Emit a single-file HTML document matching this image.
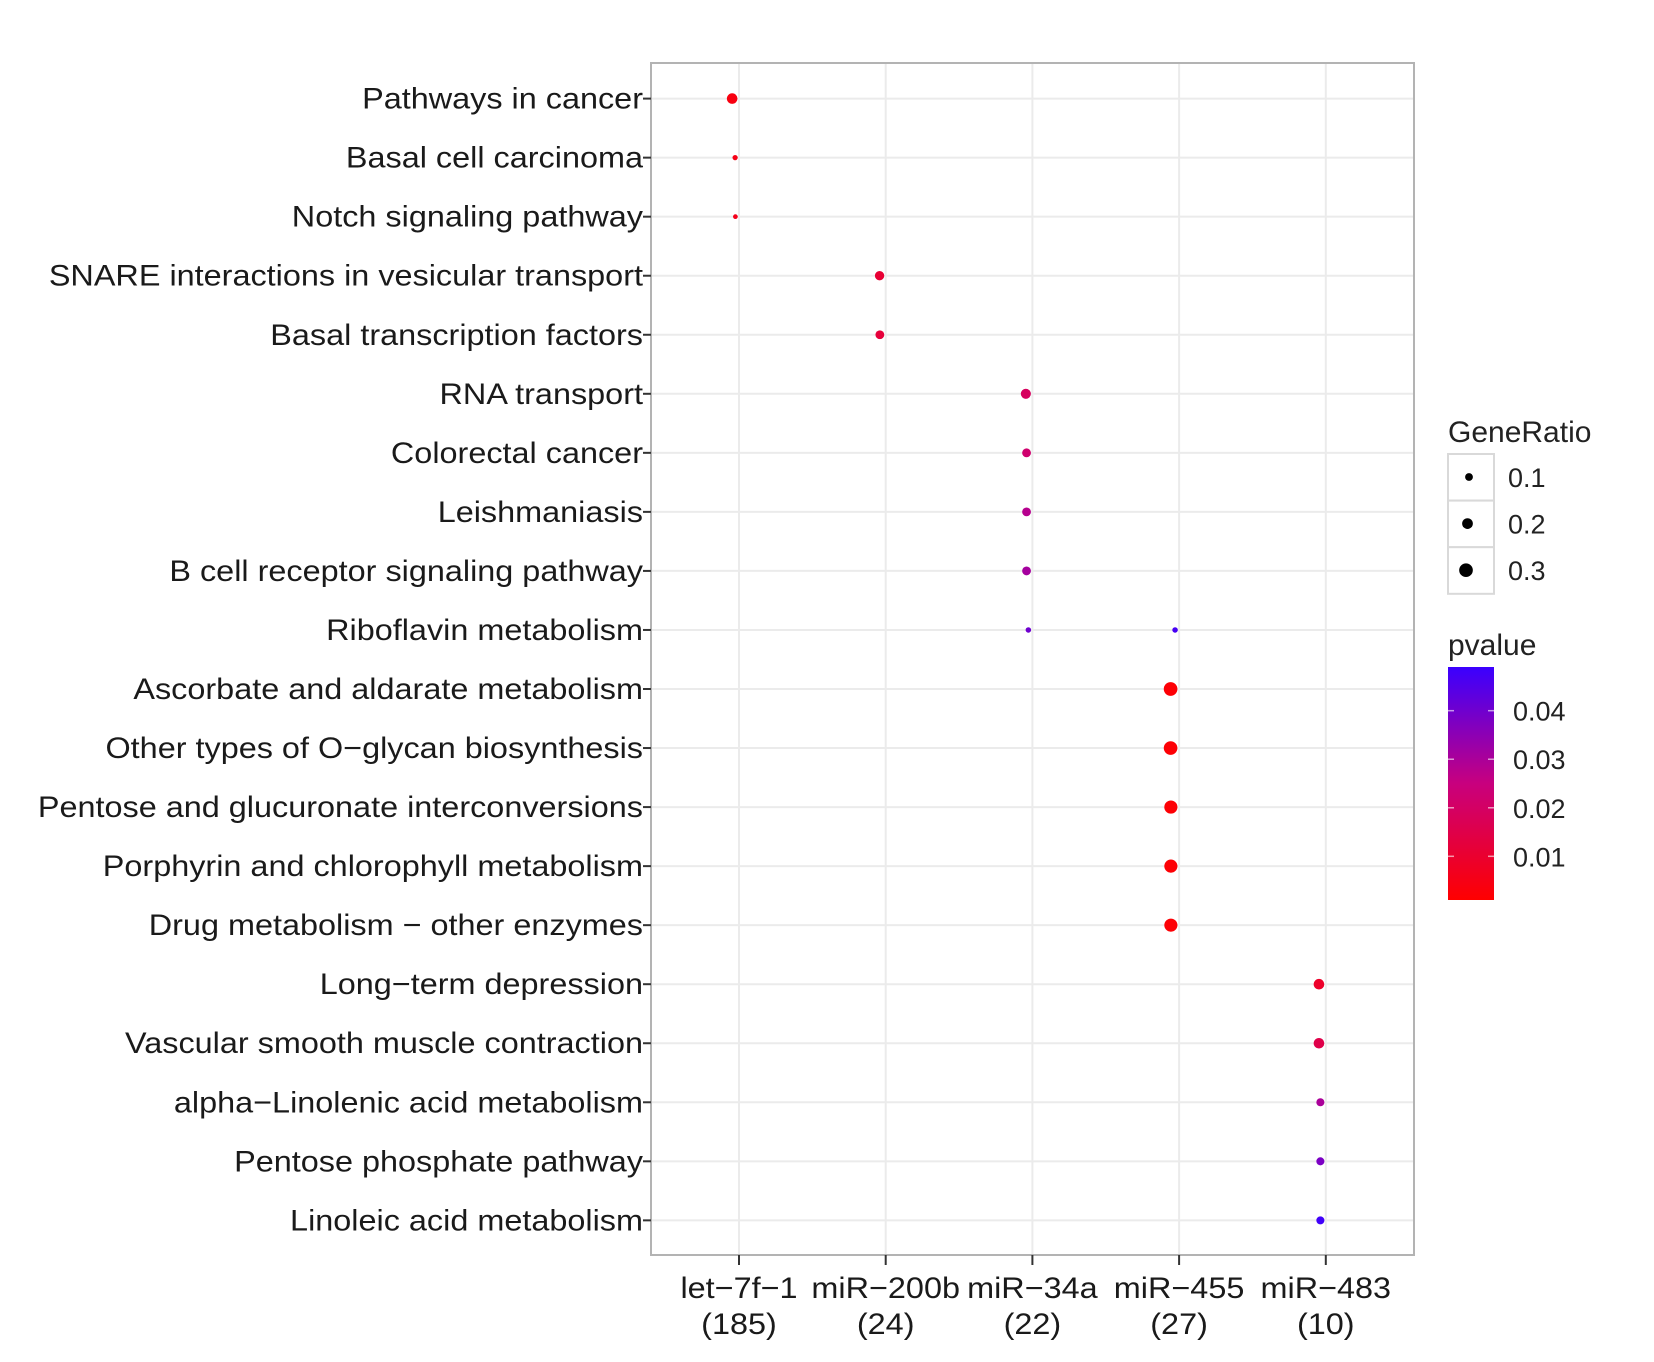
<!DOCTYPE html>
<html><head><meta charset="utf-8"><style>
html,body{margin:0;padding:0;background:#fff;}
svg{display:block;font-family:"Liberation Sans",Arial,sans-serif;}
</style></head><body>
<svg id="chart" width="1654" height="1362" viewBox="0 0 1654 1362">
<defs>
<linearGradient id="pg" x1="0" y1="1" x2="0" y2="0">
<stop offset="0" stop-color="#ff0000"/><stop offset="0.5" stop-color="#c8007e"/><stop offset="1" stop-color="#3a00ff"/>
</linearGradient>
</defs>
<g id="grid"></g>
<rect x="651" y="63" width="763" height="1192" fill="none" stroke="#b3b3b3" stroke-width="2"/>
<g id="dots"></g>
<g id="yaxis"></g>
<g id="xaxis"></g>
<g>
<text x="1448" y="442" font-size="30" fill="#222">GeneRatio</text>
<g id="sizeleg"></g>
</g>
<g>
<text x="1448" y="655" font-size="30" fill="#222">pvalue</text>
<rect x="1448" y="667" width="46" height="233" fill="url(#pg)"/>
<g id="cbticks"></g>
</g>
</svg>
<script>
const categories=["let\u22127f\u22121","miR\u2212200b","miR\u221234a","miR\u2212455","miR\u2212483"];
const categoryCounts=["(185)","(24)","(22)","(27)","(10)"];
const pathways=["Pathways in cancer","Basal cell carcinoma","Notch signaling pathway","SNARE interactions in vesicular transport","Basal transcription factors","RNA transport","Colorectal cancer","Leishmaniasis","B cell receptor signaling pathway","Riboflavin metabolism","Ascorbate and aldarate metabolism","Other types of O\u2212glycan biosynthesis","Pentose and glucuronate interconversions","Porphyrin and chlorophyll metabolism","Drug metabolism \u2212 other enzymes","Long\u2212term depression","Vascular smooth muscle contraction","alpha\u2212Linolenic acid metabolism","Pentose phosphate pathway","Linoleic acid metabolism"];
const pointPathway=[0,1,2,3,4,5,6,7,8,9,9,10,11,12,13,14,15,16,17,18,19];
const pointCategory=[0,0,0,1,1,2,2,2,2,2,3,3,3,3,3,3,4,4,4,4,4];
const geneRatio=[0.25,0.04,0.02,0.2,0.18,0.23,0.18,0.18,0.18,0.05,0.05,0.37,0.37,0.35,0.35,0.35,0.25,0.25,0.15,0.15,0.15];
const pvalue=[0.004,0.005,0.006,0.011,0.012,0.019,0.022,0.028,0.031,0.040,0.047,0.002,0.002,0.002,0.002,0.002,0.009,0.015,0.030,0.038,0.048];
const sizeLegend=[0.1,0.2,0.3];
const pTicks=[0.01,0.02,0.03,0.04];

const NS="http://www.w3.org/2000/svg";
function mk(tag,attrs,parent){const e=document.createElementNS(NS,tag);for(const k in attrs)e.setAttribute(k,attrs[k]);parent.appendChild(e);return e;}
const xPos=i=>739+i*146.7;
const yPos=i=>98.6+i*59.04;
const rad=r=>(2+12*r)*1.06;
const pMin=0.001,pMax=0.049;
function pColor(p){
  let t=Math.max(0,Math.min(1,(p-pMin)/(pMax-pMin)));
  const a=[[255,0,0],[200,0,126],[58,0,255]];
  let s=t<0.5?0:1, u=t<0.5?t*2:(t-0.5)*2;
  const c=a[s].map((v,i)=>Math.round(v+(a[s+1][i]-v)*u));
  return `rgb(${c[0]},${c[1]},${c[2]})`;
}
const yCb=p=>900-(p-pMin)/(pMax-pMin)*233;
const sx=(x)=>`translate(${x},0) scale(1.08,1) translate(${-x},0)`;

const grid=document.getElementById('grid');
pathways.forEach((p,i)=>{const l=mk('line',{x1:651,x2:1414,y1:yPos(i),y2:yPos(i),stroke:'#ebebeb','stroke-width':2},grid);

});
categories.forEach((c,i)=>{const l=mk('line',{y1:63,y2:1255,x1:xPos(i),x2:xPos(i),stroke:'#ebebeb','stroke-width':2},grid);

});

const ya=document.getElementById('yaxis');
pathways.forEach((p,i)=>{
  const t=mk('text',{x:643,y:yPos(i)+10,'font-size':30,'text-anchor':'end',fill:'#1a1a1a',transform:sx(643)},ya);t.textContent=p;
  
  
  const k=mk('line',{x1:643,x2:651,y1:yPos(i),y2:yPos(i),stroke:'#333','stroke-width':2},ya);
  
  
});
const xa=document.getElementById('xaxis');
categories.forEach((c,i)=>{
  const k=mk('line',{x1:xPos(i),x2:xPos(i),y1:1255,y2:1265,stroke:'#333','stroke-width':2},xa);
  
  
  const t=mk('text',{x:xPos(i),y:1298,'font-size':30,'text-anchor':'middle',fill:'#1a1a1a',transform:sx(xPos(i))},xa);t.textContent=c;
  
  
  const t2=mk('text',{x:xPos(i),y:1334,'font-size':30,'text-anchor':'middle',fill:'#1a1a1a',transform:sx(xPos(i))},xa);t2.textContent=categoryCounts[i];
  
  
});
const dots=document.getElementById('dots');
geneRatio.forEach((g,i)=>{
  const r=rad(g);
  const c=mk('circle',{cx:xPos(pointCategory[i])-1.1*r-1,cy:yPos(pointPathway[i]),r:r,fill:pColor(pvalue[i])},dots);
  
  
});
const sl=document.getElementById('sizeleg');
sizeLegend.forEach((g,i)=>{
  const y0=454+i*46.6;
  const b=mk('rect',{x:1448,y:y0,width:46,height:46.6,fill:'#fff',stroke:'#d9d9d9','stroke-width':2},sl);
  
  
  const c=mk('circle',{cx:1469-i*1.5,cy:y0+23,r:rad(g)*1.15,fill:'#000'},sl);
  
  
  const t=mk('text',{x:1508,y:y0+33,'font-size':27,fill:'#222'},sl);t.textContent=g.toFixed(1);
  
  
});
const cb=document.getElementById('cbticks');
pTicks.forEach(p=>{
  const y=yCb(p);
  const a=mk('line',{x1:1448,x2:1454,y1:y,y2:y,stroke:'#fff','stroke-width':1.5,opacity:0.6},cb);
  
  
  const b=mk('line',{x1:1488,x2:1494,y1:y,y2:y,stroke:'#fff','stroke-width':1.5,opacity:0.6},cb);
  
  
  const t=mk('text',{x:1513,y:y+10,'font-size':27,fill:'#222'},cb);t.textContent=p.toFixed(2);
  
  
});
</script>
</body></html>
